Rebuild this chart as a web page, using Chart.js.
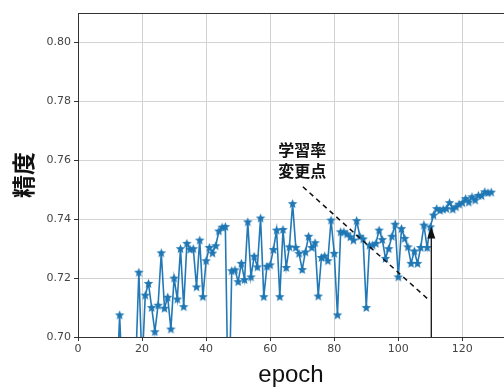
<!DOCTYPE html>
<html>
<head>
<meta charset="utf-8">
<script src="https://cdn.jsdelivr.net/npm/chart.js@4/dist/chart.umd.min.js"></script>
<style>
  body { margin: 0; background: #fff; }
  canvas { display: block; }
</style>
</head>
<body>
<canvas id="acc" width="504" height="387"></canvas>
<script>
// accuracy per epoch, epoch 1 .. 129 (values under 0.70 are off the plot)
var accuracy = [
    0.55, 0.58, 0.60, 0.61, 0.63, 0.64, 0.65, 0.66, 0.66, 0.67,
    0.68, 0.68, 0.7075, 0.68, 0.67, 0.69, 0.68, 0.69, 0.722, 0.69,
    0.7142, 0.7182, 0.710, 0.7018, 0.7108, 0.7286, 0.7098, 0.7135, 0.7027, 0.720,
    0.7129, 0.730, 0.7103, 0.7318, 0.7298, 0.730, 0.717, 0.7329, 0.7137, 0.7259,
    0.7304, 0.7285, 0.731, 0.736, 0.7373, 0.7375, 0.67, 0.7225, 0.7228, 0.7188,
    0.725, 0.7195, 0.7391, 0.7204, 0.7274, 0.7238, 0.7404, 0.7137, 0.724, 0.7245,
    0.7297, 0.7363, 0.7137, 0.7365, 0.7236, 0.7306, 0.7453, 0.7304, 0.7284, 0.7229,
    0.7289, 0.7342, 0.7304, 0.732, 0.7139, 0.727, 0.7275, 0.7259, 0.7397, 0.7284,
    0.7075, 0.7357, 0.7357, 0.735, 0.734, 0.7329, 0.7395, 0.7342, 0.7333, 0.710,
    0.7312, 0.7312, 0.7318, 0.7363, 0.7331, 0.7267, 0.730, 0.7342, 0.7383, 0.7204,
    0.7368, 0.7335, 0.7306, 0.725, 0.7292, 0.725, 0.7304, 0.738, 0.7304, 0.7374,
    0.7414, 0.7436, 0.743, 0.7434, 0.7436, 0.7456, 0.7434, 0.7442, 0.7451, 0.7456,
    0.747, 0.7458, 0.7476, 0.7465, 0.7481, 0.748, 0.7493, 0.749, 0.7492
];
var xTicks = [0, 20, 40, 60, 80, 100, 120];
var yTicks = [0.70, 0.72, 0.74, 0.76, 0.78, 0.80];
var noteLines = ["学習率", "変更点"];
var lrChangeEpoch = 110.3;

var points = accuracy.map(function(v, i) { return {x: i + 1, y: v}; });

// filled five point star like matplotlib's '*' marker
var star = document.createElement('canvas');
star.width = 11; star.height = 11;
(function() {
    var c = star.getContext('2d');
    c.fillStyle = '#1f77b4';
    c.beginPath();
    for (var k = 0; k < 10; k++) {
        var r = k % 2 ? 2.2 : 5;
        var a = -Math.PI / 2 + k * Math.PI / 5;
        var px = 5.5 + r * Math.cos(a), py = 5.9 + r * Math.sin(a);
        if (k === 0) c.moveTo(px, py); else c.lineTo(px, py);
    }
    c.closePath();
    c.fill();
})();

var annotate = {
    id: 'annotate',
    afterDatasetsDraw: function(chart) {
        var ctx = chart.ctx, xs = chart.scales.x, ys = chart.scales.y, ca = chart.chartArea;
        ctx.save();
        // top spine
        ctx.strokeStyle = '#333';
        ctx.lineWidth = 1;
        ctx.beginPath();
        ctx.moveTo(ca.left, ca.top + 0.5);
        ctx.lineTo(ca.right, ca.top + 0.5);
        ctx.stroke();
        // dashed pointer
        ctx.strokeStyle = '#111';
        ctx.lineWidth = 1.5;
        ctx.setLineDash([5, 4]);
        ctx.beginPath();
        ctx.moveTo(xs.getPixelForValue(70.2), ys.getPixelForValue(0.751));
        ctx.lineTo(xs.getPixelForValue(109), ys.getPixelForValue(0.7131));
        ctx.stroke();
        ctx.setLineDash([]);
        // arrow at the change point
        var ax = xs.getPixelForValue(lrChangeEpoch);
        var tip = ys.getPixelForValue(0.7375);
        ctx.lineWidth = 1.3;
        ctx.beginPath();
        ctx.moveTo(ax, ys.getPixelForValue(0.70));
        ctx.lineTo(ax, tip + 10);
        ctx.stroke();
        ctx.fillStyle = '#111';
        ctx.beginPath();
        ctx.moveTo(ax, tip);
        ctx.lineTo(ax - 4, tip + 12);
        ctx.lineTo(ax + 4, tip + 12);
        ctx.closePath();
        ctx.fill();
        // label
        ctx.font = 'bold 16px "Noto Sans CJK JP"';
        ctx.textAlign = 'center';
        ctx.textBaseline = 'middle';
        ctx.fillText(noteLines[0], xs.getPixelForValue(70), ys.getPixelForValue(0.7634));
        ctx.fillText(noteLines[1], xs.getPixelForValue(70), ys.getPixelForValue(0.7563));
        ctx.restore();
    }
};

var tickFont = {family: 'DejaVu Sans', size: 11};

new Chart(document.getElementById('acc').getContext('2d'), {
    type: 'line',
    data: {
        datasets: [{
            data: points,
            borderColor: '#2379b6',
            backgroundColor: '#2379b6',
            borderWidth: 1.6,
            pointStyle: star,
            tension: 0
        }]
    },
    options: {
        responsive: false,
        animation: false,
        layout: {autoPadding: false, padding: {top: 13, right: 0, left: 0, bottom: 0}},
        plugins: {legend: {display: false}, tooltip: {enabled: false}},
        scales: {
            x: {
                type: 'linear',
                min: 0,
                max: 133,
                afterBuildTicks: function(s) { s.ticks = xTicks.map(function(v) { return {value: v}; }); },
                afterFit: function(s) { s.height = 50; s.paddingLeft = 0; s.paddingRight = 0; },
                ticks: {font: tickFont, color: '#444', padding: 2, maxRotation: 0},
                grid: {color: '#d3d3d3', tickColor: '#333', tickLength: 4},
                border: {color: '#333', width: 1},
                title: {display: true, text: 'epoch', color: '#111',
                        font: {family: 'Liberation Sans', size: 24, lineHeight: 1},
                        padding: {top: 0, bottom: 0}}
            },
            y: {
                min: 0.70,
                max: 0.81,
                afterBuildTicks: function(s) { s.ticks = yTicks.map(function(v) { return {value: v}; }); },
                afterFit: function(s) { s.width = 78; s.paddingTop = 0; s.paddingBottom = 0; },
                ticks: {font: tickFont, color: '#444', padding: 3,
                        callback: function(v) { return v.toFixed(2); }},
                grid: {color: '#d3d3d3', tickColor: '#333', tickLength: 4},
                border: {color: '#333', width: 1},
                title: {display: true, text: '精度', color: '#111',
                        font: {family: 'Noto Sans CJK JP', size: 23, weight: 'bold', lineHeight: 1},
                        padding: {top: 12, bottom: 0}}
            }
        }
    },
    plugins: [annotate]
});
</script>
</body>
</html>
